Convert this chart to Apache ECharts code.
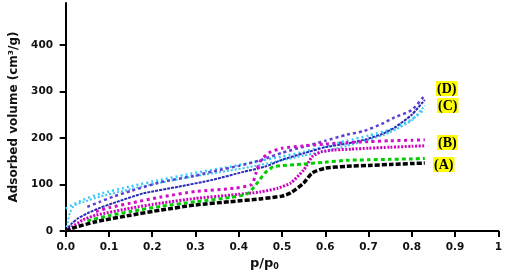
<!DOCTYPE html>
<html>
<head>
<meta charset="utf-8">
<script src="https://cdn.jsdelivr.net/npm/echarts@6.0.0/dist/echarts.min.js"></script>
<style>
html, body { margin: 0; padding: 0; background: #fff; }
#chart { width: 505px; height: 276px; }
</style>
</head>
<body>
<div id="chart"></div>
<script>
// isotherms, p/p0 vs adsorbed volume (cm3/g)
const aAdsX = [0, 0.015, 0.07, 0.15, 0.22, 0.3, 0.38, 0.45, 0.5, 0.52, 0.55, 0.57, 0.6, 0.65, 0.7, 0.75, 0.8, 0.83];
const aAdsY = [0, 6, 20, 34, 45, 56, 63, 69, 75, 82, 103, 125, 135, 139, 141, 143, 145, 146];
const aDesX = [0.05, 0.1, 0.15, 0.22, 0.3, 0.38, 0.42, 0.44, 0.46, 0.48, 0.55, 0.6, 0.65, 0.7, 0.75, 0.8, 0.83];
const aDesY = [22, 33, 42, 53, 63, 72, 80, 100, 124, 138, 144, 148, 152, 153, 154, 155, 156];

const bAdsX = [0, 0.015, 0.04, 0.07, 0.15, 0.22, 0.3, 0.38, 0.45, 0.49, 0.52, 0.55, 0.57, 0.59, 0.62, 0.66, 0.7, 0.75, 0.8, 0.83];
const bAdsY = [0, 9, 24, 34, 49, 60, 70, 77, 84, 92, 103, 131, 160, 170, 174, 176, 178, 180, 182, 183];
const bDesX = [0.07, 0.1, 0.15, 0.22, 0.3, 0.39, 0.43, 0.44, 0.45, 0.47, 0.5, 0.55, 0.6, 0.65, 0.7, 0.75, 0.8, 0.83];
const bDesY = [42, 50, 60, 73, 85, 92, 100, 125, 150, 168, 178, 183, 187, 190, 192, 194, 195, 196];

const cAdsX = [0, 0.005, 0.01, 0.02, 0.04, 0.08, 0.15, 0.22, 0.3, 0.38, 0.45, 0.5, 0.55, 0.6, 0.65, 0.7, 0.75, 0.8, 0.83];
const cAdsY = [0, 20, 40, 55, 62, 74, 90, 104, 118, 130, 142, 152, 162, 172, 183, 196, 212, 238, 270];
const cDesX = [0, 0.02, 0.04, 0.08, 0.15, 0.22, 0.3, 0.38, 0.44, 0.5, 0.55, 0.6, 0.65, 0.7, 0.75, 0.8, 0.83];
const cDesY = [48, 58, 67, 80, 96, 110, 125, 138, 149, 160, 170, 182, 194, 205, 218, 240, 262];

const dAdsX = [0, 0.015, 0.03, 0.05, 0.08, 0.11, 0.18, 0.26, 0.34, 0.41, 0.46, 0.5, 0.55, 0.6, 0.65, 0.69, 0.73, 0.76, 0.8, 0.83];
const dAdsY = [0, 17, 28, 38, 50, 60, 81, 95, 110, 127, 138, 153, 167, 180, 188, 196, 208, 222, 250, 282];
const dDesX = [0.05, 0.08, 0.11, 0.15, 0.22, 0.3, 0.34, 0.4, 0.45, 0.5, 0.55, 0.6, 0.65, 0.69, 0.73, 0.76, 0.8, 0.83];
const dDesY = [52, 63, 74, 86, 105, 119, 128, 140, 152, 168, 181, 194, 207, 215, 230, 244, 260, 292];

const xTicks = [0, 0.1, 0.2, 0.3, 0.4, 0.5, 0.6, 0.7, 0.8, 0.9, 1];
const yTicks = [0, 100, 200, 300, 400];
const sampleLabels = ['(D)', '(C)', '(B)', '(A)'];

const pairs = (xs, ys) => xs.map((x, i) => [x, ys[i]]);

const myChart = echarts.init(document.getElementById('chart'));

function line(name, xs, ys, color, width, dash) {
    return {
        name: name,
        type: 'line',
        data: pairs(xs, ys),
        showSymbol: false,
        smooth: 0.2,
        silent: true,
        lineStyle: { color: color, width: width, type: dash, cap: 'butt' }
    };
}

const axisFont = { fontFamily: 'DejaVu Sans', fontWeight: 'bold', fontSize: 10.5, color: '#111' };
const labelPos = [[436, 81], [437, 98], [437, 135], [433, 157]];

const option = {
    backgroundColor: '#fff',
    animation: false,
    grid: { left: 62, right: 6, top: 3, bottom: 45 },
    xAxis: {
        type: 'value',
        min: -0.0085,
        max: 1,
        splitLine: { show: false },
        axisLine: { lineStyle: { color: '#000', width: 2 } },
        axisTick: { length: 6, lineStyle: { color: '#000', width: 2 }, customValues: xTicks },
        axisLabel: Object.assign({
            margin: 11,
            customValues: xTicks,
            formatter: v => (v === 1 ? '1' : v.toFixed(1))
        }, axisFont)
    },
    yAxis: {
        type: 'value',
        min: 0,
        max: 490,
        name: 'Adsorbed volume (cm³/g)',
        nameLocation: 'middle',
        nameGap: 42,
        nameTextStyle: { fontFamily: 'DejaVu Sans', fontWeight: 'bold', fontSize: 12, color: '#111' },
        splitLine: { show: false },
        axisLine: { show: true, lineStyle: { color: '#000', width: 2 } },
        axisTick: { show: true, length: 6, lineStyle: { color: '#000', width: 2 }, customValues: yTicks },
        axisLabel: Object.assign({ margin: 9, customValues: yTicks }, axisFont)
    },
    graphic: sampleLabels.map((t, i) => ({
        type: 'text',
        left: labelPos[i][0],
        top: labelPos[i][1],
        style: {
            text: t,
            font: 'bold 14px "Liberation Serif"',
            fill: '#000',
            backgroundColor: '#ffff00',
            padding: [1, 1, 0, 1]
        }
    })).concat([{
        type: 'text',
        left: 250,
        top: 257,
        style: {
            text: '{a|p/p}{b|0}',
            rich: {
                a: { fontFamily: 'DejaVu Sans', fontWeight: 'bold', fontSize: 13, fill: '#111' },
                b: { fontFamily: 'DejaVu Sans', fontWeight: 'bold', fontSize: 8, fill: '#111', padding: [6, 0, 0, 0] }
            }
        }
    }]),
    series: [
        line('C ads', cAdsX, cAdsY, '#3cc8f0', 2, [2, 2]),
        line('C des', cDesX, cDesY, '#33ccff', 2.5, [2, 3]),
        line('D ads', dAdsX, dAdsY, '#2b2bb8', 2, [3, 1]),
        line('D des', dDesX, dDesY, '#6040d0', 2.5, [3, 3]),
        line('B ads', bAdsX, bAdsY, '#d000c0', 3, [2, 1.5]),
        line('B des', bDesX, bDesY, '#d010c8', 3, [3, 3.5]),
        line('A des', aDesX, aDesY, '#00cc00', 3, [4, 3]),
        line('A ads', aAdsX, aAdsY, '#000', 3.5, [5, 2])
    ]
};

myChart.setOption(option);
</script>
</body>
</html>
